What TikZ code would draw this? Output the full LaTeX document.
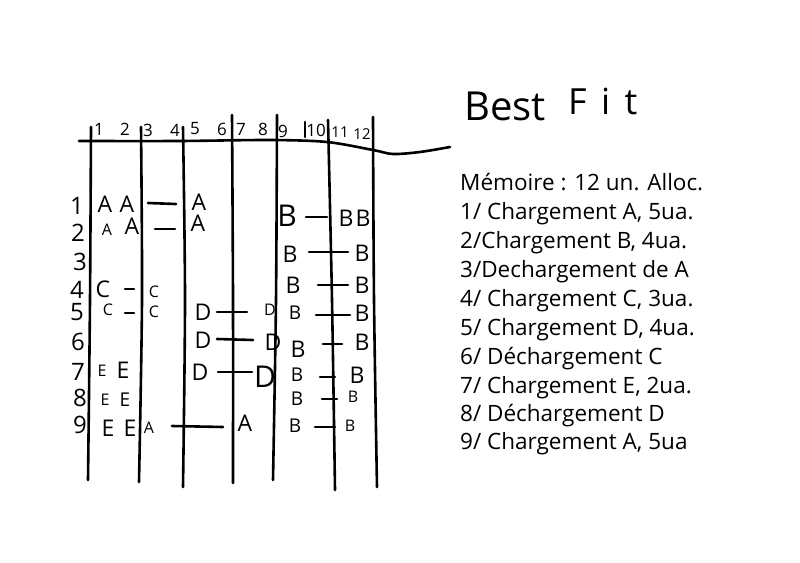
\documentclass[tikz,border=0pt]{standalone}
\usepackage{fontspec}
\setmainfont{Open Sans}
\begin{document}
\begin{tikzpicture}[x=1pt,y=-1pt,
  pen/.style={line width=2.6pt, line cap=round, line join=round},
  cell/.style={inner sep=0pt, font=\fontsize{23}{23}\selectfont},
  midcell/.style={inner sep=0pt, font=\fontsize{19}{19}\selectfont},
  smallcell/.style={inner sep=0pt, font=\fontsize{16}{16}\selectfont},
  bigcell/.style={inner sep=0pt, font=\fontsize{30}{30}\selectfont},
  rownum/.style={inner sep=0pt, font=\fontsize{24}{24}\selectfont},
  colnum/.style={inner sep=0pt, font=\fontsize{17}{17}\selectfont},
  step line/.style={inner sep=0pt, anchor=base west, font=\fontsize{22.5}{22.5}\selectfont}]
\useasboundingbox (0,0) rectangle (800,562);

% header rule of the memory table
\draw[pen] plot[smooth] coordinates {(79,141) (180,141) (270,140) (327,142) (373,150) (393,154) (420,152) (450,147)};

% column separators
\draw[pen] plot[smooth] coordinates {(91,127) (90,300) (88,480)};
\draw[pen] plot[smooth] coordinates {(141,127) (142,300) (139,482)};
\draw[pen] plot[smooth] coordinates {(183,127) (185,300) (183,487)};
\draw[pen] plot[smooth] coordinates {(232,115) (233,300) (233,483)};
\draw[pen] plot[smooth] coordinates {(277,115) (276,300) (273,480)};
\draw[pen] plot[smooth] coordinates {(328,120) (332,300) (335,490)};
\draw[pen] plot[smooth] coordinates {(373,117) (374,300) (377,487)};
\draw[pen] (305,122) -- (305,137);

% unit numbers
\node[colnum] (c1) at (99,129) {1};
\node[colnum] (c2) at (125,129) {2};
\node[colnum] (c3) at (148,130) {3};
\node[colnum] (c4) at (175,130) {4};
\node[colnum] (c5) at (195,129) {5};
\node[colnum] (c6) at (222,129) {6};
\node[colnum] (c7) at (241,129) {7};
\node[colnum] (c8) at (263,129) {8};
\node[colnum] (c9) at (283,131) {9};
\node[colnum] (c10) at (316,130) {10};
\node[colnum, font=\fontsize{15}{15}\selectfont] (c11) at (340,132) {11};
\node[colnum, font=\fontsize{15}{15}\selectfont] (c12) at (362,134) {12};

% step numbers
\node[rownum] (r1) at (77,206) {1};
\node[rownum] (r2) at (78,233) {2};
\node[rownum] (r3) at (80,262) {3};
\node[rownum] (r4) at (77,290) {4};
\node[rownum] (r5) at (77,312) {5};
\node[rownum] (r6) at (78,342) {6};
\node[rownum] (r7) at (78,372) {7};
\node[rownum] (r8) at (80,398) {8};
\node[rownum] (r9) at (80,425) {9};

% step 1
\node[cell] (a11) at (105,204) {A};
\node[cell] (a12) at (127,204) {A};
\node[cell] (a13) at (199,202) {A};
\draw[pen] (148,203) -- (176,204);
\node[bigcell] (b11) at (287,216) {B};
\node[cell] (b12) at (346,218) {B};
\node[cell] (b13) at (363,218) {B};
\draw[pen] (306,217) -- (327,217);
% step 2
\node[smallcell] (a21) at (107,230) {A};
\node[cell] (a22) at (132,226) {A};
\node[cell] (a23) at (198,223) {A};
\draw[pen] (155,229) -- (175,229);
% step 3
\node[cell] (b31) at (290,254) {B};
\node[cell] (b32) at (362,253) {B};
\draw[pen] (309,252) -- (348,252);
% step 4
\node[cell] (c41) at (103,289) {C};
\node[smallcell] (c42) at (154,292) {C};
\draw[pen] (125,289) -- (134,289);
\node[cell] (b41) at (293,285) {B};
\node[cell] (b42) at (362,285) {B};
\draw[pen] (318,285) -- (348,285);
% step 5
\node[smallcell] (c51) at (108,310) {C};
\node[smallcell] (c52) at (154,312) {C};
\draw[pen] (125,313) -- (134,313);
\node[cell] (d51) at (203,312) {D};
\node[smallcell] (d52) at (270,310) {D};
\draw[pen] (217,312) -- (247,312);
\node[midcell] (b51) at (295,313) {B};
\node[cell] (b52) at (362,313) {B};
\draw[pen] (316,315) -- (350,315);
% step 6
\node[cell] (d61) at (203,340) {D};
\node[cell] (d62) at (273,342) {D};
\draw[pen] (217,339) -- (253,340);
\node[cell] (b61) at (298,349) {B};
\node[cell] (b62) at (362,342) {B};
\draw[pen] (323,344) -- (342,344);
% step 7
\node[smallcell] (e71) at (102,371) {E};
\node[cell] (e72) at (123,370) {E};
\node[cell] (d71) at (200,372) {D};
\node[bigcell] (d72) at (265,377) {D};
\draw[pen] (218,372) -- (252,372);
\node[midcell] (b71) at (297,375) {B};
\node[cell] (b72) at (357,375) {B};
\draw[pen] (320,377) -- (335,377);
% step 8
\node[smallcell] (e81) at (105,400) {E};
\node[midcell] (e82) at (125,400) {E};
\node[midcell] (b81) at (297,399) {B};
\node[smallcell] (b82) at (353,397) {B};
\draw[pen] (322,399) -- (337,399);
% step 9
\node[cell] (e91) at (108,428) {E};
\node[cell] (e92) at (130,428) {E};
\node[smallcell] (a91) at (149,428) {A};
\node[cell] (a92) at (245,423) {A};
\draw[pen] (172,426) -- (223,427);
\node[midcell] (b91) at (295,426) {B};
\node[smallcell] (b92) at (350,426) {B};
\draw[pen] (315,427) -- (335,427);

% title
\node[inner sep=0pt, anchor=base west, font=\fontsize{40}{40}\selectfont] (ttl1) at (464,120) {Best};
\node[inner sep=0pt, anchor=base west, font=\fontsize{36}{36}\selectfont\addfontfeature{LetterSpace=40}] (ttl2) at (568,114) {Fit};

% allocation steps
\node[step line] (s0) at (460,190) {Mémoire : 12 un. Alloc.};
\node[step line] (s1) at (460,219) {1/ Chargement A, 5ua.};
\node[step line] (s2) at (460,248) {2/Chargement B, 4ua.};
\node[step line] (s3) at (460,277) {3/Dechargement de A};
\node[step line] (s4) at (460,306) {4/ Chargement C, 3ua.};
\node[step line] (s5) at (460,335) {5/ Chargement D, 4ua.};
\node[step line] (s6) at (460,364) {6/ Déchargement C};
\node[step line] (s7) at (460,393) {7/ Chargement E, 2ua.};
\node[step line] (s8) at (460,421) {8/ Déchargement D};
\node[step line] (s9) at (460,449) {9/ Chargement A, 5ua};
\end{tikzpicture}
\end{document}
